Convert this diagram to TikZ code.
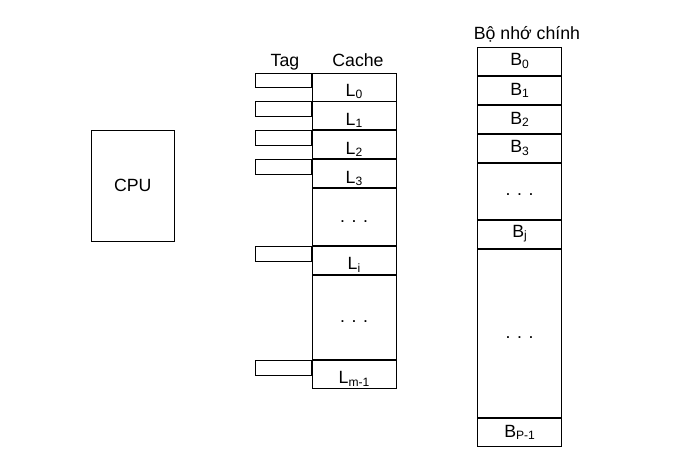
\documentclass[tikz,border=0pt]{standalone}
\usepackage{fontspec}
\setmainfont{Liberation Sans}
\usepackage{tikz}
\usetikzlibrary{positioning}
\newcommand{\low}[1]{\raisebox{-1.6pt}{\fontsize{8.6}{10}\selectfont #1}}
\tikzset{
cell/.style = {rectangle, draw=black, line width=0.7pt, minimum width=2.1cm, minimum height = #1, inner sep=0pt},
cell/.default = 0.7cm, % height of one line
line/.style = {cell, text height=13pt, text depth=0pt},
dotcell/.style = {cell=#1, text height=7pt, text depth=0pt},
tagbox/.style = {rectangle, draw=black, line width=0.7pt, minimum width=1.39cm, minimum height=0.36cm, inner sep=0pt},
}

\begin{document}
\begin{tikzpicture}[font=\fontsize{12.6}{15}\selectfont]
    \useasboundingbox (0,0) rectangle (17.15,11.375);

    \node[rectangle, draw=black, line width=0.7pt, minimum width=2.06cm, minimum height=2.79cm] (cpu) at (3.32,6.73) {CPU};

    \node[anchor=base](tagLabel) at (7.125,9.71) {Tag};
    \node[anchor=base](cacheLabel) at (8.95,9.71) {Cache};
    \node[line] (L0) at (8.85,9.2) {L\low{0}};
    \node[line, below=0pt of L0] (L1) {L\low{1}};
    \node[line, below=0pt of L1] (L2) {L\low{2}};
    \node[line, below=0pt of L2] (L3) {L\low{3}};
    \node[dotcell=1.42cm, below=0pt of L3] (Ldots) {. . .};
    \node[line, below=0pt of Ldots] (Li) {L\low{i}};
    \node[dotcell=2.1cm, below=0pt of Li] (Ldotsb) {. . .};
    \node[line, below=0pt of Ldotsb] (Lm) {L\low{m-1}};

    \node[tagbox, anchor=north east] (tag0) at (L0.north west) {};
    \node[tagbox, anchor=north east] (tag1) at (L1.north west) {};
    \node[tagbox, anchor=north east] (tag2) at (L2.north west) {};
    \node[tagbox, anchor=north east] (tag3) at (L3.north west) {};
    \node[tagbox, anchor=north east] (tagi) at (Li.north west) {};
    \node[tagbox, anchor=north east] (tagm) at (Lm.north west) {};

    \node[anchor=base](memLabel) at (13.175,10.39) {Bộ nhớ chính};
    \node[cell, anchor=north] (B0) at (12.99,10.21) {B\low{0}};
    \node[cell, below=0pt of B0] (B1) {B\low{1}};
    \node[cell, below=0pt of B1] (B2) {B\low{2}};
    \node[cell, below=0pt of B2] (B3) {B\low{3}};
    \node[dotcell=1.4cm, below=0pt of B3] (Bdots) {. . .};
    \node[cell, below=0pt of Bdots] (Bj) {B\low{j}};
    \node[dotcell=4.21cm, below=0pt of Bj] (Bdotsb) {. . .};
    \node[cell, below=0pt of Bdotsb] (Bp) {B\low{P-1}};
\end{tikzpicture}
\end{document}
